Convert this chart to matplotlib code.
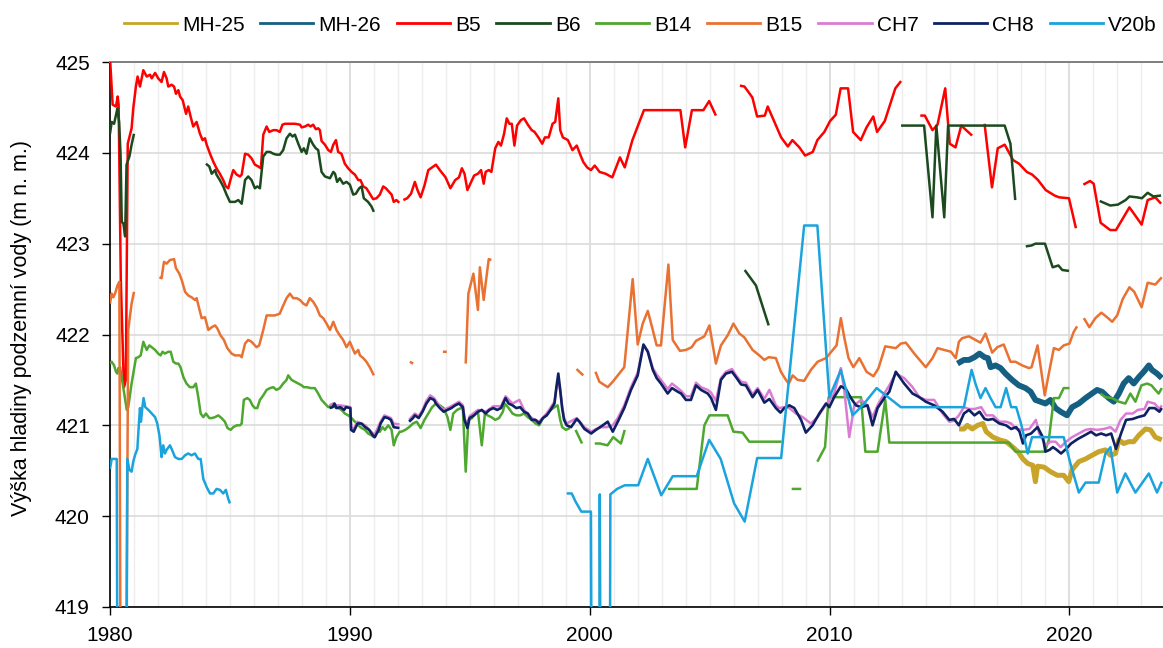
import numpy as np
import matplotlib
matplotlib.use("Agg")
import matplotlib.pyplot as plt
from matplotlib.ticker import MultipleLocator
from matplotlib.lines import Line2D

plt.rcParams['font.family'] = ['Liberation Sans', 'DejaVu Sans']

nan = np.nan

# ---------------- data (year, groundwater level m a.s.l.) ----------------
mh25_year = [2015.4, 2015.6, 2015.74, 2015.95, 2016.17, 2016.39, 2016.53, 2016.81, 2017.08, 2017.36,
             2017.64, 2017.85, 2018.06, 2018.26, 2018.47, 2018.58, 2018.67, 2018.94, 2019.21, 2019.49,
             2019.76, 2019.97, 2020.11, 2020.39, 2020.67, 2020.94, 2021.22, 2021.5, 2021.71, 2021.92,
             2022.06, 2022.26, 2022.47, 2022.68, 2022.89, 2023.17, 2023.38, 2023.58, 2023.85]
mh25_level = [420.96, 420.96, 421.0, 420.96, 421.0, 421.02, 420.93, 420.87, 420.84, 420.82,
              420.76, 420.71, 420.63, 420.58, 420.56, 420.38, 420.55, 420.54, 420.49, 420.45,
              420.45, 420.38, 420.51, 420.6, 420.63, 420.67, 420.71, 420.73, 420.67, 420.69,
              420.84, 420.8, 420.82, 420.82, 420.89, 420.96, 420.95, 420.87, 420.84]

mh26_year = [2015.33, 2015.6, 2015.81, 2016.04, 2016.25, 2016.46, 2016.6, 2016.71, 2016.92, 2017.13,
             2017.33, 2017.61, 2017.89, 2018.17, 2018.38, 2018.58, 2018.79, 2019.0, 2019.21, 2019.42,
             2019.63, 2019.9, 2020.11, 2020.39, 2020.67, 2020.94, 2021.15, 2021.36, 2021.64, 2021.85,
             2022.06, 2022.26, 2022.47, 2022.68, 2022.89, 2023.1, 2023.31, 2023.44, 2023.65, 2023.85]
mh26_level = [421.68, 421.72, 421.72, 421.75, 421.79, 421.75, 421.74, 421.64, 421.66, 421.63,
              421.57, 421.5, 421.44, 421.41, 421.37, 421.28, 421.26, 421.24, 421.28, 421.19,
              421.15, 421.11, 421.2, 421.24, 421.3, 421.35, 421.39, 421.37, 421.3, 421.26,
              421.35, 421.46, 421.52, 421.46, 421.53, 421.59, 421.66, 421.61, 421.57, 421.52]

b5_year = [1980.0, 1980.11, 1980.25, 1980.32, 1980.36, 1980.45, 1980.58, 1980.66, 1980.74, 1980.9,
           1980.97, 1981.08, 1981.15, 1981.25, 1981.39, 1981.53, 1981.67, 1981.74, 1981.88, 1982.01,
           1982.15, 1982.25, 1982.36, 1982.43, 1982.57, 1982.67, 1982.75, 1982.85, 1982.92, 1983.03,
           1983.17, 1983.26, 1983.36, 1983.47, 1983.61, 1983.75, 1983.86, 1983.96, 1984.03, 1984.17,
           1984.31, 1984.44, 1984.58, 1984.72, 1984.83, 1984.93, 1985.04, 1985.14, 1985.28, 1985.42,
           1985.49, 1985.63, 1985.76, 1985.9, 1986.04, 1986.18, 1986.29, 1986.39, 1986.53, 1986.64,
           1986.81, 1986.94, 1987.08, 1987.19, 1987.29, 1987.5, 1987.71, 1987.92, 1987.99, 1988.13,
           1988.26, 1988.36, 1988.47, 1988.58, 1988.68, 1988.75, 1988.82, 1988.96, 1989.1, 1989.21,
           1989.31, 1989.42, 1989.51, 1989.65, 1989.79, 1989.93, 1990.07, 1990.21, 1990.35, 1990.44,
           1990.56, 1990.69, 1990.83, 1990.97, 1991.11, 1991.25, 1991.39, 1991.5, 1991.64, 1991.74,
           1991.83, 1991.94, 1992.06, nan,
           1992.23, 1992.39, 1992.55, 1992.71, 1992.82, 1992.95, 1993.11, 1993.27, 1993.43, 1993.59,
           1993.75, 1993.99, 1994.19, 1994.39, 1994.55, 1994.67, 1994.78, 1994.9, 1995.06, 1995.18,
           1995.34, 1995.47, 1995.58, 1995.66, 1995.79, 1995.9, 1996.06, 1996.19, 1996.3, 1996.43,
           1996.54, 1996.65, 1996.75, 1996.86, 1996.97, 1997.13, 1997.26, 1997.42, 1997.58, 1997.7,
           1997.86, 1998.02, 1998.13, 1998.29, 1998.45, 1998.56, 1998.69, 1998.77, 1998.88, 1999.09,
           1999.28, 1999.46, 1999.62, 1999.73, 1999.89, 2000.05, 2000.21, 2000.41, 2000.66, 2000.94,
           2001.26, 2001.46, 2001.78, 2002.26, 2002.74, 2003.22, 2003.78, 2003.98, 2004.26, 2004.74,
           2004.98, 2005.26, nan,
           2006.26, 2006.45, 2006.78, 2006.98, 2007.3, 2007.42, 2007.7, 2007.98, 2008.26, 2008.45,
           2008.74, 2008.98, 2009.3, 2009.49, 2009.78, 2010.02, 2010.26, 2010.46, 2010.77, 2010.98,
           2011.3, 2011.54, 2011.82, 2011.98, 2012.3, 2012.74, 2012.98, nan,
           2013.78, 2013.97, 2014.29, 2014.5, 2014.82, 2015.01, 2015.25, 2015.49, 2015.94, nan,
           2016.46, 2016.77, 2017.01, 2017.3, 2017.65, 2017.9, 2018.22, 2018.45, 2018.69, 2019.01,
           2019.38, 2019.57, 2019.98, 2020.27, nan,
           2020.58, 2020.86, 2021.01, 2021.3, 2021.7, 2021.94, 2022.5, 2023.01, 2023.26, 2023.58,
           2023.82]
b5_level = [425.05, 424.53, 424.51, 424.62, 424.53, 422.6, 421.42, 421.5, 424.1, 424.27,
            424.49, 424.73, 424.84, 424.73, 424.91, 424.84, 424.86, 424.82, 424.88, 424.82,
            424.78, 424.89, 424.82, 424.73, 424.75, 424.73, 424.65, 424.69, 424.62, 424.58,
            424.43, 424.51, 424.4, 424.29, 424.34, 424.21, 424.14, 424.16, 424.09, 423.99,
            423.9, 423.83, 423.77, 423.7, 423.63, 423.61, 423.72, 423.81, 423.76, 423.74,
            423.76, 423.99, 423.98, 423.94, 423.87, 423.85, 423.83, 424.2, 424.29, 424.23,
            424.25, 424.25, 424.23, 424.31, 424.32, 424.32, 424.32, 424.31, 424.28, 424.29,
            424.31, 424.29, 424.31, 424.26, 424.27, 424.25, 424.13, 424.09, 424.03, 424.01,
            424.09, 424.14, 424.01, 423.99, 423.88, 423.83, 423.79, 423.76, 423.7, 423.7,
            423.63, 423.61, 423.55, 423.49, 423.5, 423.54, 423.63, 423.61, 423.57, 423.54,
            423.46, 423.48, 423.45, nan,
            423.48, 423.5, 423.55, 423.68, 423.59, 423.51, 423.64, 423.81, 423.84, 423.87,
            423.81, 423.73, 423.61, 423.7, 423.73, 423.83, 423.77, 423.59, 423.68, 423.75,
            423.77, 423.81, 423.66, 423.79, 423.81, 423.79, 424.05, 424.12, 424.08, 424.21,
            424.38, 424.32, 424.32, 424.08, 424.3, 424.36, 424.38, 424.31, 424.25, 424.23,
            424.17, 424.1, 424.17, 424.17, 424.32, 424.34, 424.6, 424.25, 424.17, 424.14,
            424.03, 424.08, 423.97, 423.9, 423.84, 423.81, 423.86, 423.79, 423.77, 423.73,
            423.95, 423.84, 424.14, 424.47, 424.47, 424.47, 424.47, 424.06, 424.47, 424.47,
            424.57, 424.41, nan,
            424.74, 424.73, 424.61, 424.4, 424.41, 424.51, 424.34, 424.17, 424.07, 424.14,
            424.06, 423.97, 424.01, 424.14, 424.23, 424.35, 424.42, 424.71, 424.71, 424.23,
            424.14, 424.28, 424.4, 424.23, 424.35, 424.71, 424.79, nan,
            424.41, 424.41, 424.25, 424.31, 424.71, 424.1, 424.06, 424.3, 424.19, nan,
            424.32, 423.62, 424.05, 424.09, 423.92, 423.88, 423.79, 423.76, 423.7, 423.59,
            423.53, 423.51, 423.5, 423.17, nan,
            423.65, 423.69, 423.66, 423.23, 423.15, 423.15, 423.4, 423.21, 423.48, 423.51,
            423.44]

b6_year = [1980.0, 1980.07, 1980.17, 1980.31, 1980.38, 1980.44, 1980.49, 1980.56, 1980.63, 1980.69,
           1980.81, 1980.9, 1981.0, nan,
           1984.0, 1984.14, 1984.24, 1984.38, 1984.44, 1984.58, 1984.72, 1984.86, 1985.0, 1985.21,
           1985.35, 1985.49, 1985.63, 1985.76, 1985.9, 1986.04, 1986.14, 1986.25, 1986.32, 1986.39,
           1986.53, 1986.67, 1986.81, 1986.94, 1987.08, 1987.22, 1987.36, 1987.5, 1987.61, 1987.71,
           1987.85, 1987.99, 1988.08, 1988.19, 1988.33, 1988.47, 1988.58, 1988.68, 1988.82, 1988.96,
           1989.17, 1989.31, 1989.38, 1989.47, 1989.58, 1989.72, 1989.86, 1990.0, 1990.14, 1990.25,
           1990.39, 1990.49, 1990.58, 1990.76, 1990.9, 1991.0, nan,
           2006.46, 2006.93, 2007.46, nan,
           2012.98, 2013.94, 2014.29, 2014.45, 2014.78, 2014.94, 2017.3, 2017.54, 2017.74, nan,
           2018.18, 2018.42, 2018.58, 2018.98, 2019.3, 2019.54, 2019.7, 2019.98, nan,
           2021.26, 2021.7, 2022.02, 2022.34, 2022.5, 2022.82, 2023.02, 2023.26, 2023.5, 2023.82]
b6_level = [424.21, 424.34, 424.32, 424.49, 424.34, 423.98, 423.24, 423.22, 423.08, 423.87,
            423.96, 424.09, 424.21, nan,
            423.88, 423.85, 423.77, 423.81, 423.76, 423.7, 423.63, 423.54, 423.46, 423.46,
            423.48, 423.44, 423.7, 423.74, 423.7, 423.61, 423.63, 423.61, 423.79, 423.96,
            424.01, 424.01, 423.99, 423.98, 423.98, 424.03, 424.16, 424.21, 424.18, 424.2,
            424.1, 424.01, 424.05, 423.99, 424.16, 424.09, 424.05, 424.03, 423.79, 423.74,
            423.72, 423.79, 423.77, 423.68, 423.72, 423.66, 423.68, 423.65, 423.54, 423.55,
            423.61, 423.63, 423.5, 423.46, 423.41, 423.35, nan,
            422.71, 422.54, 422.1, nan,
            424.3, 424.3, 423.29, 424.3, 423.29, 424.3, 424.3, 424.1, 423.48, nan,
            422.97, 422.98, 423.0, 423.0, 422.74, 422.76, 422.71, 422.7, nan,
            423.47, 423.42, 423.43, 423.48, 423.52, 423.51, 423.5, 423.56, 423.52, 423.53]

b14_year = [1980.0, 1980.07, 1980.17, 1980.25, 1980.31, 1980.35, 1980.42, 1980.7, 1980.76, 1980.9,
            1981.08, 1981.18, 1981.28, 1981.39, 1981.53, 1981.64, 1981.74, 1981.88, 1982.01, 1982.11,
            1982.19, 1982.29, 1982.43, 1982.53, 1982.64, 1982.75, 1982.85, 1982.94, 1983.06, 1983.19,
            1983.33, 1983.47, 1983.58, 1983.68, 1983.78, 1983.89, 1984.0, 1984.14, 1984.24, 1984.38,
            1984.51, 1984.65, 1984.79, 1984.9, 1985.03, 1985.14, 1985.28, 1985.42, 1985.49, 1985.58,
            1985.72, 1985.83, 1985.94, 1986.04, 1986.14, 1986.25, 1986.39, 1986.53, 1986.67, 1986.81,
            1986.94, 1987.08, 1987.22, 1987.36, 1987.43, 1987.57, 1987.71, 1987.85, 1987.99, 1988.08,
            1988.22, 1988.36, 1988.54, 1988.68, 1988.82, 1988.96, 1989.1, 1989.24, 1989.38, 1989.51,
            1989.65, 1989.79, 1989.93, 1990.07, 1990.21, 1990.35, 1990.49, 1990.63, 1990.76, 1990.9,
            1991.0, 1991.11, 1991.25, 1991.36, 1991.46, 1991.6, 1991.74, 1991.83, 1991.94, 1992.08,
            1992.15, 1992.31, 1992.47, 1992.63, 1992.79, 1992.95, 1993.11, 1993.27, 1993.43, 1993.59,
            1993.75, 1993.91, 1994.07, 1994.19, 1994.31, 1994.47, 1994.63, 1994.71, 1994.83, 1994.94,
            1995.1, 1995.18, 1995.34, 1995.5, 1995.63, 1995.74, 1995.9, 1996.06, 1996.22, 1996.38,
            1996.46, 1996.62, 1996.78, 1996.94, 1997.1, 1997.26, 1997.42, 1997.58, 1997.74, 1997.89,
            1998.05, 1998.21, 1998.37, 1998.53, 1998.66, 1998.77, 1998.85, 1999.01, 1999.17, nan,
            1999.41, 1999.68, nan,
            2000.21, 2000.42, 2000.74, 2000.98, 2001.3, 2001.46, nan,
            2003.26, 2004.46, 2004.78, 2004.99, 2005.75, 2005.99, 2006.37, 2006.65, 2008.0, nan,
            2008.42, 2008.82, nan,
            2009.49, 2009.81, 2009.96, 2011.31, 2011.49, 2012.0, 2012.32, 2012.49, 2017.47, 2017.75,
            2018.97, 2019.14, 2019.35, 2019.56, 2019.76, 2020.0, nan,
            2021.29, 2021.5, 2021.78, 2022.06, 2022.33, 2022.54, 2022.75, 2023.0, 2023.24, 2023.42,
            2023.58, 2023.72, 2023.85]
b14_level = [421.68, 421.7, 421.66, 421.59, 421.57, 421.63, 421.64, 421.17, 421.2, 421.46,
             421.74, 421.75, 421.77, 421.92, 421.83, 421.88, 421.86, 421.83, 421.79, 421.77,
             421.81, 421.79, 421.81, 421.81, 421.7, 421.68, 421.68, 421.64, 421.53, 421.46,
             421.42, 421.42, 421.46, 421.31, 421.13, 421.09, 421.13, 421.08, 421.08, 421.09,
             421.11, 421.08, 421.04, 420.97, 420.95, 420.98, 421.0, 421.0, 421.02, 421.28,
             421.3, 421.28, 421.22, 421.19, 421.19, 421.28, 421.33, 421.39, 421.41, 421.42,
             421.39, 421.41, 421.46, 421.5, 421.55, 421.5, 421.48, 421.46, 421.44, 421.42,
             421.42, 421.41, 421.41, 421.35, 421.28, 421.24, 421.2, 421.22, 421.2, 421.19,
             421.17, 421.13, 421.11, 421.08, 421.04, 421.0, 420.97, 420.95, 420.91, 420.89,
             420.87, 420.93, 420.93, 420.98, 420.95, 421.0, 420.95, 420.78, 420.87, 420.93,
             420.93, 420.95, 420.98, 421.02, 421.04, 420.97, 421.06, 421.13, 421.2, 421.24,
             421.22, 421.19, 421.09, 420.95, 421.13, 421.17, 421.19, 421.19, 420.49, 421.06,
             421.08, 421.13, 421.15, 420.78, 421.13, 421.11, 421.09, 421.06, 421.08, 421.15,
             421.24, 421.19, 421.13, 421.11, 421.11, 421.13, 421.09, 421.06, 421.02, 421.0,
             421.08, 421.13, 421.17, 421.2, 421.22, 421.06, 420.98, 420.95, 420.97, nan,
             420.95, 420.8, nan,
             420.8, 420.8, 420.78, 420.87, 420.8, 420.95, nan,
             420.3, 420.3, 421.0, 421.11, 421.11, 420.93, 420.92, 420.82, 420.82, nan,
             420.3, 420.3, nan,
             420.6, 420.76, 421.31, 421.31, 420.71, 420.71, 421.28, 420.81, 420.81, 420.71,
             420.71, 420.84, 421.3, 421.3, 421.41, 421.41, nan,
             421.35, 421.31, 421.3, 421.26, 421.24, 421.35, 421.26, 421.44, 421.46, 421.44,
             421.39, 421.35, 421.41]

b15_year = [1980.0, 1980.07, 1980.14, 1980.21, 1980.31, 1980.39, 1980.44, 1980.67, 1980.76, 1980.9,
            1981.0, nan,
            1982.06, 1982.15, 1982.25, 1982.36, 1982.5, 1982.67, 1982.75, 1982.89, 1982.99, 1983.13,
            1983.26, 1983.4, 1983.54, 1983.61, 1983.75, 1983.82, 1983.96, 1984.1, 1984.24, 1984.38,
            1984.47, 1984.61, 1984.75, 1984.89, 1985.07, 1985.21, 1985.42, 1985.49, 1985.63, 1985.76,
            1985.9, 1986.04, 1986.11, 1986.22, 1986.39, 1986.53, 1986.67, 1986.88, 1987.08, 1987.19,
            1987.36, 1987.5, 1987.64, 1987.78, 1987.92, 1988.06, 1988.19, 1988.33, 1988.47, 1988.61,
            1988.75, 1988.89, 1989.03, 1989.17, 1989.31, 1989.44, 1989.58, 1989.72, 1989.86, 1990.0,
            1990.11, 1990.21, 1990.35, 1990.42, 1990.56, 1990.69, 1990.83, 1991.0, nan,
            1992.5, 1992.64, nan, 1993.88, 1994.04, nan,
            1994.83, 1994.94, 1995.15, 1995.34, 1995.42, 1995.58, 1995.66, 1995.79, 1995.9, nan,
            1999.45, 1999.73, nan,
            2000.24, 2000.4, 2000.75, 2000.96, 2001.26, 2001.44, 2001.79, 2002.0, 2002.21, 2002.42,
            2002.6, 2002.79, 2002.97, 2003.28, 2003.46, 2003.76, 2004.01, 2004.25, 2004.43, 2004.78,
            2004.99, 2005.26, 2005.47, 2005.75, 2005.99, 2006.24, 2006.44, 2006.79, 2007.07, 2007.28,
            2007.46, 2007.76, 2007.97, 2008.18, 2008.3, 2008.46, 2008.67, 2008.94, 2009.22, 2009.5,
            2009.85, 2010.13, 2010.29, 2010.47, 2010.61, 2010.79, 2010.99, 2011.24, 2011.54, 2011.83,
            2012.04, 2012.32, 2012.76, 2012.97, 2013.18, 2013.53, 2014.01, 2014.29, 2014.5, 2014.78,
            2015.06, 2015.26, 2015.39, 2015.53, 2015.81, 2016.08, 2016.29, 2016.5, 2016.78, 2016.99,
            2017.26, 2017.54, 2017.75, 2018.03, 2018.31, 2018.42, 2018.67, 2018.97, 2019.14, 2019.35,
            2019.56, 2019.76, 2020.0, 2020.18, 2020.32, nan,
            2020.6, 2020.83, 2021.08, 2021.33, 2021.57, 2021.78, 2021.99, 2022.22, 2022.5, 2022.7,
            2023.01, 2023.26, 2023.58, 2023.85]
b15_level = [422.34, 422.45, 422.41, 422.45, 422.54, 422.58, 418.0, 418.0, 422.05, 422.34,
             422.47, nan,
             422.63, 422.62, 422.8, 422.78, 422.82, 422.83, 422.73, 422.67, 422.6, 422.47,
             422.43, 422.41, 422.38, 422.4, 422.25, 422.18, 422.19, 422.05, 422.08, 422.1,
             422.07, 421.99, 421.94, 421.85, 421.79, 421.77, 421.77, 421.75, 421.9, 421.94,
             421.92, 421.88, 421.86, 421.88, 422.05, 422.21, 422.21, 422.21, 422.23, 422.3,
             422.4, 422.45, 422.4, 422.4, 422.38, 422.34, 422.32, 422.4, 422.36, 422.3,
             422.21, 422.18, 422.12, 422.05, 422.14, 422.05, 421.99, 421.94, 421.86, 421.92,
             421.85, 421.79, 421.83, 421.77, 421.74, 421.7, 421.64, 421.55, nan,
             421.7, 421.68, nan, 421.81, 421.81, nan,
             421.68, 422.45, 422.67, 422.27, 422.74, 422.38, 422.56, 422.83, 422.82, nan,
             421.62, 421.55, nan,
             421.59, 421.48, 421.42, 421.48, 421.58, 421.64, 422.61, 421.89, 422.12, 422.26,
             422.08, 421.88, 421.88, 422.77, 421.94, 421.82, 421.83, 421.86, 421.93, 421.98,
             422.1, 421.68, 421.88, 421.99, 422.12, 422.01, 421.97, 421.83, 421.77, 421.72,
             421.75, 421.74, 421.59, 421.5, 421.46, 421.55, 421.5, 421.49, 421.61, 421.7,
             421.74, 421.83, 421.88, 422.18, 421.97, 421.74, 421.64, 421.74, 421.59, 421.54,
             421.63, 421.87, 421.85, 421.9, 421.91, 421.79, 421.64, 421.74, 421.85, 421.83,
             421.81, 421.74, 421.92, 421.96, 421.98, 421.94, 421.91, 422.01, 421.8, 421.86,
             421.89, 421.7, 421.7, 421.66, 421.63, 421.64, 421.88, 421.33, 421.57, 421.85,
             421.83, 421.88, 421.9, 422.03, 422.09, nan,
             422.18, 422.08, 422.18, 422.24, 422.19, 422.14, 422.21, 422.39, 422.52, 422.47,
             422.3, 422.57, 422.55, 422.63]

ch7_year = [1989.15, 1989.3, 1989.44, 1989.6, 1989.84, 1990.02, 1990.05, 1990.16, 1990.32, 1990.64,
            1990.96, 1991.04, 1991.28, 1991.44, 1991.71, 1991.83, 1992.07, nan,
            1992.47, 1992.71, 1992.87, 1993.03, 1993.19, 1993.35, 1993.51, 1993.75, 1993.91, 1994.23,
            1994.55, 1994.71, 1994.78, 1994.9, 1994.99, 1995.34, 1995.66, 1995.98, 1996.3, 1996.49,
            1996.78, 1997.07, 1997.26, 1997.58, 1997.89, 1998.21, 1998.53, 1998.61, 1998.69, 1998.77,
            1998.85, 1998.93, 1999.04, 1999.46, 1999.78, 2000.06, 2000.26, 2000.5, 2000.7, 2000.96,
            2001.17, 2001.44, 2001.72, 2002.0, 2002.24, 2002.42, 2002.63, 2002.79, 2002.97, 2003.25,
            2003.43, 2003.67, 2003.81, 2004.01, 2004.22, 2004.43, 2004.64, 2004.92, 2005.06, 2005.26,
            2005.47, 2005.68, 2005.93, 2006.1, 2006.31, 2006.51, 2006.79, 2007.0, 2007.28, 2007.49,
            2007.76, 2007.9, 2008.11, 2008.32, 2008.6, 2008.88, 2009.22, 2009.5, 2009.78, 2009.99,
            2010.19, 2010.47, 2010.61, 2010.82, 2011.03, 2011.31, 2011.58, 2011.79, 2012.0, 2012.28,
            2012.49, 2012.76, 2013.11, 2013.46, 2013.74, 2014.01, 2014.36, 2014.71, 2014.99, 2015.19,
            2015.39, 2015.6, 2015.81, 2016.04, 2016.32, 2016.53, 2016.81, 2017.08, 2017.36, 2017.57,
            2017.78, 2018.06, 2018.33, 2018.6, 2018.74, 2019.01, 2019.21, 2019.42, 2019.63, 2019.86,
            2020.11, 2020.39, 2020.67, 2020.88, 2021.15, 2021.43, 2021.71, 2021.92, 2022.13, 2022.36,
            2022.64, 2022.85, 2023.13, 2023.26, 2023.55, 2023.75, 2023.85]
ch7_level = [421.22, 421.24, 421.22, 421.22, 421.21, 421.2, 420.98, 420.96, 421.04, 421.0,
             420.91, 420.9, 421.04, 421.11, 421.08, 421.02, 421.01, nan,
             421.06, 421.13, 421.1, 421.17, 421.27, 421.33, 421.3, 421.21, 421.17, 421.21,
             421.26, 421.22, 421.08, 421.0, 421.1, 421.17, 421.15, 421.21, 421.21, 421.32,
             421.24, 421.28, 421.17, 421.08, 421.04, 421.13, 421.26, 421.4, 421.5, 421.38,
             421.21, 421.08, 421.02, 421.08, 420.98, 420.93, 420.96, 420.98, 420.98, 421.0,
             421.08, 421.22, 421.42, 421.58, 421.88, 421.82, 421.63, 421.56, 421.5, 421.4,
             421.46, 421.41, 421.38, 421.32, 421.32, 421.47, 421.42, 421.39, 421.36, 421.27,
             421.52, 421.59, 421.62, 421.55, 421.48, 421.47, 421.34, 421.41, 421.29, 421.39,
             421.22, 421.19, 421.2, 421.19, 421.13, 421.09, 421.02, 421.09, 421.2, 421.28,
             421.35, 421.63, 421.39, 420.87, 421.22, 421.28, 421.22, 421.09, 421.22, 421.35,
             421.44, 421.57, 421.52, 421.42, 421.31, 421.28, 421.28, 421.13, 421.04, 421.05,
             421.11, 421.2, 421.18, 421.18, 421.2, 421.11, 421.11, 421.04, 421.04, 421.02,
             420.96, 420.95, 420.96, 421.06, 420.91, 420.78, 420.82, 420.82, 420.76, 420.82,
             420.87, 420.91, 420.95, 420.96, 420.95, 420.96, 420.98, 420.93, 421.06, 421.13,
             421.13, 421.17, 421.18, 421.26, 421.24, 421.18, 421.22]

ch8_year = [1989.15, 1989.28, 1989.36, 1989.44, 1989.6, 1989.76, 1989.84, 1990.02, 1990.05, 1990.16,
            1990.32, 1990.48, 1990.64, 1990.8, 1990.96, 1991.04, 1991.2, 1991.28, 1991.44, 1991.59,
            1991.71, 1991.83, 1992.07, nan,
            1992.47, 1992.63, 1992.71, 1992.87, 1993.03, 1993.19, 1993.35, 1993.51, 1993.59, 1993.75,
            1993.91, 1994.07, 1994.23, 1994.39, 1994.55, 1994.71, 1994.78, 1994.9, 1994.99, 1995.18,
            1995.34, 1995.5, 1995.66, 1995.82, 1995.98, 1996.14, 1996.3, 1996.49, 1996.62, 1996.78,
            1996.94, 1997.1, 1997.26, 1997.42, 1997.58, 1997.74, 1997.89, 1998.05, 1998.21, 1998.37,
            1998.53, 1998.61, 1998.69, 1998.77, 1998.85, 1998.93, 1999.04, 1999.22, 1999.46, 1999.57,
            1999.78, 2000.06, 2000.26, 2000.54, 2000.75, 2000.96, 2001.17, 2001.44, 2001.72, 2002.0,
            2002.24, 2002.42, 2002.63, 2002.79, 2002.97, 2003.25, 2003.43, 2003.67, 2003.81, 2004.01,
            2004.22, 2004.43, 2004.64, 2004.92, 2005.06, 2005.26, 2005.47, 2005.68, 2005.93, 2006.1,
            2006.31, 2006.51, 2006.79, 2007.0, 2007.28, 2007.49, 2007.76, 2007.95, 2008.11, 2008.32,
            2008.53, 2008.81, 2009.01, 2009.29, 2009.57, 2009.85, 2009.99, 2010.19, 2010.47, 2010.68,
            2010.89, 2011.1, 2011.31, 2011.58, 2011.79, 2012.0, 2012.28, 2012.49, 2012.76, 2013.11,
            2013.46, 2013.74, 2014.01, 2014.36, 2014.71, 2014.99, 2015.19, 2015.39, 2015.6, 2015.81,
            2016.04, 2016.25, 2016.46, 2016.6, 2016.81, 2017.08, 2017.36, 2017.57, 2017.78, 2017.92,
            2018.06, 2018.19, 2018.4, 2018.67, 2018.89, 2019.0, 2019.17, 2019.31, 2019.47, 2019.65,
            2019.86, 2020.07, 2020.35, 2020.63, 2020.9, 2021.11, 2021.32, 2021.53, 2021.74, 2021.94,
            2022.15, 2022.36, 2022.64, 2022.85, 2023.13, 2023.33, 2023.55, 2023.75, 2023.85]
ch8_level = [421.19, 421.2, 421.24, 421.19, 421.2, 421.17, 421.2, 421.19, 420.95, 420.93,
             421.02, 421.02, 420.98, 420.95, 420.89, 420.87, 420.95, 421.02, 421.09, 421.08,
             421.06, 420.98, 420.97, nan,
             421.04, 421.08, 421.11, 421.08, 421.15, 421.24, 421.3, 421.28, 421.24, 421.19,
             421.15, 421.17, 421.19, 421.22, 421.24, 421.2, 421.06, 420.97, 421.08, 421.11,
             421.15, 421.17, 421.13, 421.17, 421.19, 421.17, 421.19, 421.3, 421.24, 421.22,
             421.19, 421.2, 421.15, 421.13, 421.06, 421.06, 421.02, 421.08, 421.11, 421.17,
             421.24, 421.42, 421.57, 421.39, 421.19, 421.06, 421.0, 420.98, 421.07, 421.04,
             420.96, 420.91, 420.95, 421.0, 421.04, 420.93, 421.04, 421.19, 421.39, 421.55,
             421.89, 421.81, 421.61, 421.52, 421.46, 421.35, 421.41, 421.37, 421.35, 421.28,
             421.28, 421.44, 421.39, 421.35, 421.3, 421.17, 421.5, 421.57, 421.59, 421.53,
             421.45, 421.44, 421.31, 421.39, 421.25, 421.29, 421.19, 421.14, 421.19, 421.22,
             421.19, 421.06, 420.92, 421.0, 421.13, 421.24, 421.2, 421.31, 421.43, 421.4,
             421.3, 421.22, 421.2, 421.22, 421.0, 421.19, 421.3, 421.37, 421.59, 421.46,
             421.35, 421.31, 421.26, 421.22, 421.15, 421.06, 421.07, 421.0, 421.13, 421.17,
             421.11, 421.15, 421.07, 421.06, 421.07, 421.02, 421.0, 420.96, 420.98, 420.93,
             420.8, 420.89, 420.91, 420.98, 420.87, 420.71, 420.73, 420.76, 420.73, 420.69,
             420.74, 420.8, 420.85, 420.89, 420.93, 420.89, 420.91, 420.89, 420.91, 420.74,
             420.91, 421.06, 421.07, 421.09, 421.11, 421.19, 421.19, 421.15, 421.19]

v20b_year = [1980.0, 1980.07, 1980.28, 1980.31, 1980.69, 1980.72, 1980.81, 1980.9, 1980.97, 1981.04,
             1981.14, 1981.21, 1981.25, 1981.29, 1981.35, 1981.4, 1981.47, 1981.6, 1981.74, 1981.88,
             1981.97, 1982.06, 1982.11, 1982.15, 1982.22, 1982.29, 1982.36, 1982.5, 1982.57, 1982.71,
             1982.85, 1982.99, 1983.13, 1983.26, 1983.4, 1983.54, 1983.68, 1983.78, 1983.89, 1984.03,
             1984.17, 1984.31, 1984.44, 1984.58, 1984.72, 1984.83, 1984.93, 1985.0, nan,
             1999.04, 1999.25, 1999.41, 1999.65, 2000.05, 2000.08, 2000.4, 2000.42, 2000.45, 2000.84,
             2000.86, 2001.14, 2001.46, 2002.02, 2002.42, 2002.98, 2003.46, 2004.46, 2004.98, 2005.46,
             2006.02, 2006.46, 2006.98, 2007.98, 2008.94, 2009.49, 2009.99, 2010.47, 2010.96, 2011.38,
             2011.96, 2012.49, 2012.97, 2015.6, 2015.92, 2016.08, 2016.29, 2016.5, 2016.71, 2016.92,
             2017.13, 2017.36, 2017.57, 2017.78, 2018.0, 2018.26, 2018.44, 2019.76, 2020.04, 2020.39,
             2020.67, 2021.22, 2021.5, 2021.71, 2021.99, 2022.33, 2022.75, 2023.31, 2023.65, 2023.85]
v20b_level = [420.52, 420.63, 420.63, 418.0, 418.0, 420.63, 420.51, 420.49, 420.6, 420.67,
              420.74, 421.04, 421.19, 421.04, 421.2, 421.3, 421.2, 421.17, 421.13, 421.09,
              421.02, 420.89, 420.76, 420.65, 420.78, 420.69, 420.73, 420.78, 420.74, 420.65,
              420.63, 420.63, 420.67, 420.69, 420.67, 420.69, 420.63, 420.63, 420.41, 420.32,
              420.25, 420.25, 420.3, 420.29, 420.25, 420.29, 420.19, 420.14, nan,
              420.25, 420.25, 420.16, 420.05, 420.05, 418.0, 418.0, 420.24, 418.0, 418.0,
              420.24, 420.3, 420.34, 420.34, 420.63, 420.23, 420.44, 420.44, 420.84, 420.63,
              420.14, 419.94, 420.64, 420.64, 423.2, 423.2, 421.31, 421.61, 421.11, 421.22,
              421.41, 421.3, 421.2, 421.2, 421.61, 421.46, 421.3, 421.41, 421.3, 421.2,
              421.2, 421.41, 421.2, 421.2, 421.0, 420.69, 420.87, 420.87, 420.58, 420.26,
              420.37, 420.37, 420.69, 420.76, 420.26, 420.47, 420.26, 420.47, 420.26, 420.38]

series_names = ["MH-25", "MH-26", "B5", "B6", "B14", "B15", "CH7", "CH8", "V20b"]
series_colors = ["#C9A42A", "#156082", "#FF0000", "#1B4A1E", "#4EA72E", "#E97132",
                 "#DA7CD4", "#0E2163", "#1AA3DC"]
series_data = [(mh25_year, mh25_level), (mh26_year, mh26_level), (b5_year, b5_level),
               (b6_year, b6_level), (b14_year, b14_level), (b15_year, b15_level),
               (ch7_year, ch7_level), (ch8_year, ch8_level), (v20b_year, v20b_level)]
series_lw = [3.6, 4.2, 1.8, 1.8, 1.8, 1.8, 1.8, 1.9, 1.8]

x_ticks = [1980, 1990, 2000, 2010, 2020]
y_ticks = [419, 420, 421, 422, 423, 424, 425]

# ---------------- figure ----------------
W, H = 1163, 648
fig = plt.figure(figsize=(W / 100, H / 100), dpi=100)
ax = fig.add_axes([110 / W, 1 - 607 / H, (W - 110) / W, (607 - 62) / H])

for (xs, ys), name, col, lw in zip(series_data, series_names, series_colors, series_lw):
    ax.plot(xs, ys, color=col, lw=lw, label=name, solid_joinstyle='round',
            solid_capstyle='butt', zorder=3)

ax.set_xlim(1980, 2023.9)
ax.set_ylim(419, 425)
ax.set_xticks(x_ticks)
ax.set_yticks(y_ticks)
ax.xaxis.set_minor_locator(MultipleLocator(1))

ax.grid(True, which='minor', axis='x', color='#EDEDED', lw=1.0, zorder=0)
ax.grid(True, which='major', axis='x', color='#D4D4D4', lw=1.1, zorder=0)
ax.grid(True, which='major', axis='y', color='#DDDDDD', lw=1.3, zorder=0)

ax.spines['right'].set_visible(False)
ax.spines['top'].set_color('#7F7F7F')
ax.spines['top'].set_linewidth(1.4)
ax.spines['left'].set_color('black')
ax.spines['bottom'].set_color('black')
ax.spines['left'].set_linewidth(1.2)
ax.spines['bottom'].set_linewidth(1.2)

ax.tick_params(axis='both', which='major', direction='out', length=5.5, width=1.0,
               labelsize=15, colors='black')
ax.tick_params(axis='y', pad=9)
ax.tick_params(axis='x', pad=8)
ax.tick_params(axis='x', which='minor', length=0)

fig.text(21.5 / W, 1 - 327.5 / H, "Výška hladiny podzemní vody (m n. m.)", rotation=90,
         ha='center', va='center', fontsize=15.5)

handles = [Line2D([0], [0], color=c, lw=2.0) for c in series_colors]
fig.legend(handles=handles, labels=series_names, loc='upper center',
           bbox_to_anchor=(0.5505, 1.005), ncol=9, frameon=False, fontsize=15,
           handlelength=2.55, handletextpad=0.25, columnspacing=0.75)

fig.savefig("out.png", dpi=100)
